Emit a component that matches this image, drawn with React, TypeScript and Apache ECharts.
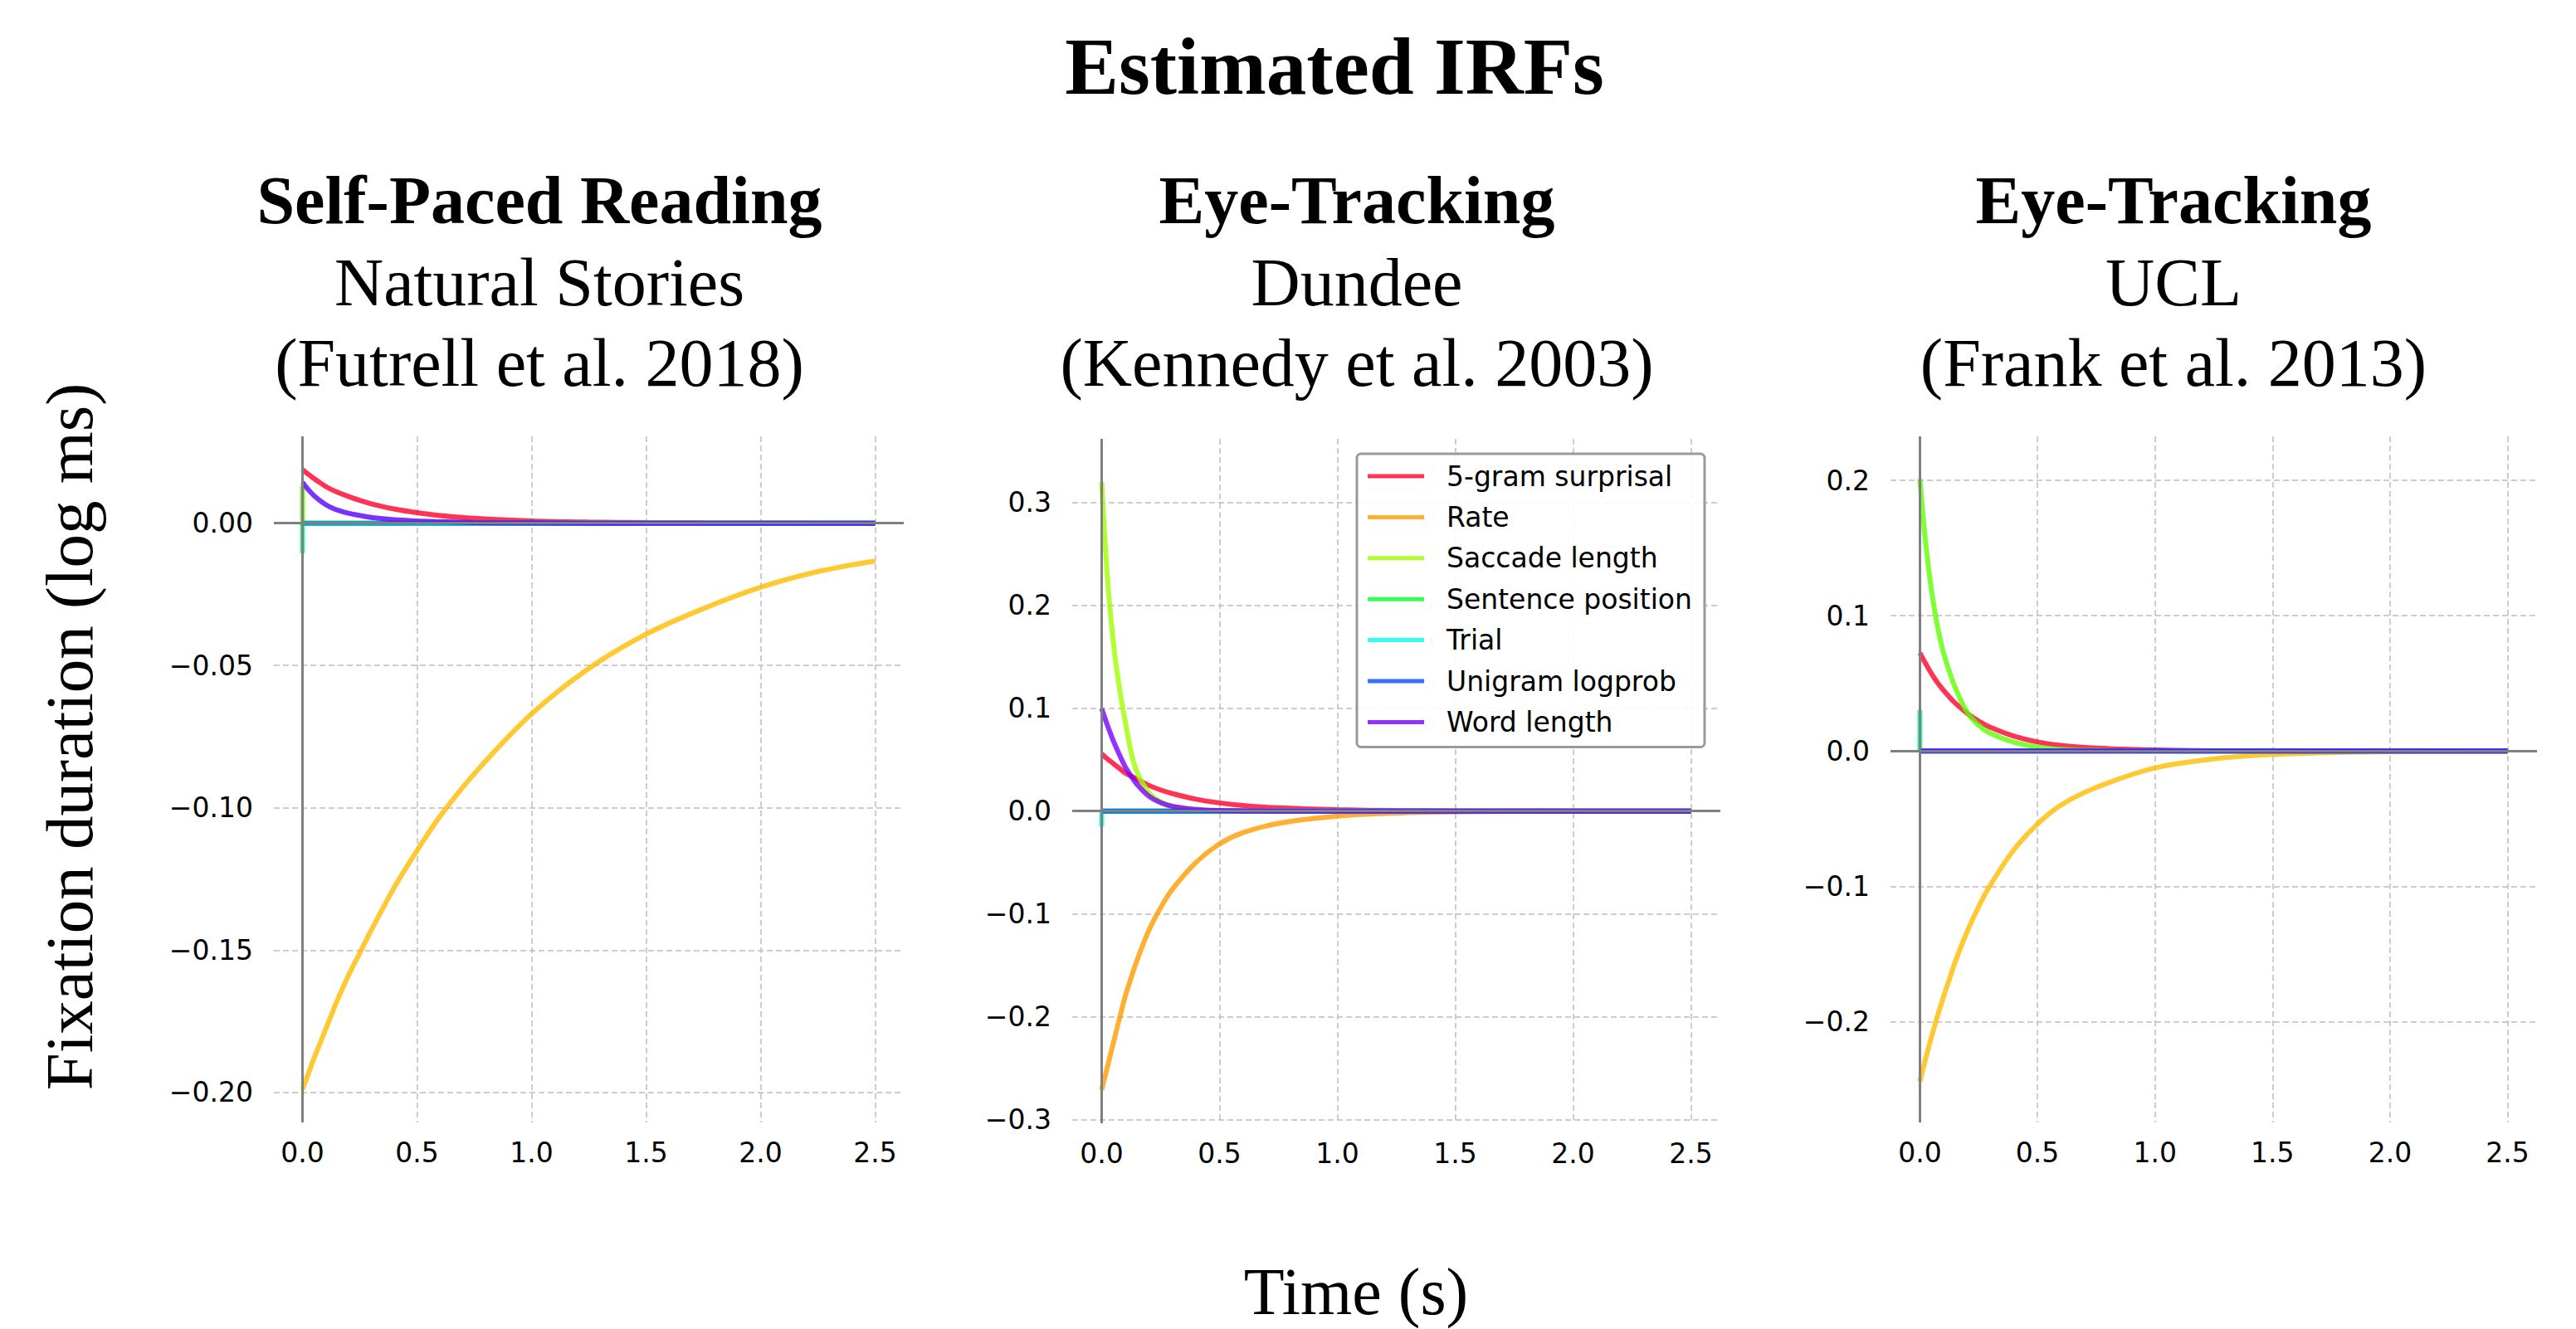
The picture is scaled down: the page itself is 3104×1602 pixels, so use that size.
import React, { useEffect, useRef } from "react";
import * as echarts from "echarts";

// ---------- shared sampling grid (seconds) ----------
const T = [0, 0.025, 0.05, 0.075, 0.1, 0.125, 0.15, 0.2, 0.25, 0.3, 0.4, 0.5, 0.6, 0.75, 1.0, 1.25, 1.5, 1.75, 2.0, 2.25, 2.5];
const impulseT = [0, 0, 2.5];
const flatT = [0, 2.5];

// ---------- tick labels ----------
const xTicks = [0, 0.5, 1.0, 1.5, 2.0, 2.5];
const yTicksNS = [-0.2, -0.15, -0.1, -0.05, 0];
const yTicksDD = [-0.3, -0.2, -0.1, 0, 0.1, 0.2, 0.3];
const yTicksUCL = [-0.2, -0.1, 0, 0.1, 0.2];

// ---------- Panel 1: Self-Paced Reading, Natural Stories ----------
const namesNS = ["5-gram surprisal", "Rate", "Sentence position", "Trial", "Unigram logprob", "Word length"];
const ns5gram = [0.0188, 0.0172, 0.0157, 0.0143, 0.013, 0.0119, 0.011, 0.0094, 0.008, 0.0068, 0.005, 0.0037, 0.0027, 0.0017, 0.0008, 0.0004, 0.0002, 0.0001, 0.00005, 0, 0];
const nsRate = [-0.199, -0.1935, -0.188, -0.183, -0.178, -0.173, -0.168, -0.159, -0.151, -0.143, -0.128, -0.115, -0.103, -0.088, -0.067, -0.051, -0.039, -0.03, -0.0225, -0.017, -0.0133];
const nsSentence = [0.0131, 0, 0];
const nsTrial = [-0.0105, 0, 0];
const nsUnigram = [0, 0];
const nsWordLen = [0.0144, 0.0118, 0.0097, 0.008, 0.0066, 0.0055, 0.0047, 0.0035, 0.0027, 0.002, 0.0012, 0.0008, 0.0005, 0.0002, 0.0001, 0, 0, 0, 0, 0, 0];

// ---------- Panel 2: Eye-Tracking, Dundee ----------
const namesDD = ["5-gram surprisal", "Rate", "Saccade length", "Sentence position", "Trial", "Unigram logprob", "Word length"];
const dd5gram = [0.0556, 0.0505, 0.046, 0.0415, 0.037, 0.034, 0.031, 0.025, 0.0205, 0.017, 0.0115, 0.0079, 0.0054, 0.0031, 0.0013, 0.0005, 0.0002, 0.0001, 0, 0, 0];
const ddRate = [-0.271, -0.248, -0.225, -0.202, -0.18, -0.162, -0.145, -0.116, -0.094, -0.076, -0.05, -0.032, -0.021, -0.012, -0.005, -0.002, -0.0008, -0.0003, -0.0001, 0, 0];
const ddSaccade = [0.32, 0.225, 0.163, 0.12, 0.087, 0.057, 0.038, 0.018, 0.009, 0.0045, 0.0012, 0.0003, 0.0001, 0, 0, 0, 0, 0, 0, 0, 0];
const ddSentence = [0, 0];
const ddTrial = [-0.0153, 0, 0];
const ddUnigram = [0, 0];
const ddWordLen = [0.0995, 0.083, 0.068, 0.055, 0.043, 0.034, 0.026, 0.0145, 0.0082, 0.0046, 0.0016, 0.0005, 0.0002, 0, 0, 0, 0, 0, 0, 0, 0];

// ---------- Panel 3: Eye-Tracking, UCL ----------
const namesUCL = ["5-gram surprisal", "Rate", "Saccade length", "Sentence position", "Unigram logprob", "Word length"];
const ucl5gram = [0.0725, 0.0645, 0.057, 0.0505, 0.045, 0.04, 0.0355, 0.028, 0.022, 0.0175, 0.011, 0.0067, 0.0042, 0.0021, 0.0007, 0.0002, 0.0001, 0, 0, 0, 0];
const uclRate = [-0.2444, -0.227, -0.211, -0.196, -0.182, -0.169, -0.156, -0.134, -0.115, -0.099, -0.073, -0.054, -0.04, -0.027, -0.0125, -0.0058, -0.0026, -0.0012, -0.0006, -0.0003, -0.0001];
const uclSaccade = [0.201, 0.153, 0.118, 0.092, 0.073, 0.059, 0.047, 0.029, 0.019, 0.013, 0.0065, 0.003, 0.0013, 0.0004, 0.0001, 0, 0, 0, 0, 0, 0];
const uclSentence = [0.0303, 0, 0];
const uclUnigram = [0, 0];
const uclWordLen = [0, 0];

// gist_rainbow colours (drawn at 0.8 opacity)
const colors7 = ["#ff0029", "#ff9c00", "#9eff00", "#00ff27", "#00ffeb", "#004dff", "#7900ff"];
const colors6 = ["#ff0029", "#ffbc00", "#5cff00", "#00ff89", "#008fff", "#5800ff"];

const SANS = "DejaVu Sans";
const SERIF = "Liberation Serif";

type Panel = {
  names: string[];
  colors: string[];
  xs: number[][];
  ys: number[][];
  yTicks: number[];
  decimals: number;
  yMin: number;
  yMax: number;
  grid: { left: number; top: number; width: number; height: number };
  titleX: number;
  lines: string[];
};

const panels: Panel[] = [
  {
    names: namesNS,
    colors: colors6,
    xs: [T, T, impulseT, impulseT, flatT, T],
    ys: [ns5gram, nsRate, nsSentence, nsTrial, nsUnigram, nsWordLen],
    yTicks: yTicksNS,
    decimals: 2,
    yMin: -0.2105,
    yMax: 0.0305,
    grid: { left: 330, top: 526, width: 759, height: 827 },
    titleX: 650,
    lines: ["Self-Paced Reading", "Natural Stories", "(Futrell et al. 2018)"],
  },
  {
    names: namesDD,
    colors: colors7,
    xs: [T, T, T, flatT, impulseT, flatT, T],
    ys: [dd5gram, ddRate, ddSaccade, ddSentence, ddTrial, ddUnigram, ddWordLen],
    yTicks: yTicksDD,
    decimals: 1,
    yMin: -0.3035,
    yMax: 0.3618,
    grid: { left: 1292, top: 529, width: 781, height: 825 },
    titleX: 1635,
    lines: ["Eye-Tracking", "Dundee", "(Kennedy et al. 2003)"],
  },
  {
    names: namesUCL,
    colors: colors6,
    xs: [T, T, T, impulseT, flatT, flatT],
    ys: [ucl5gram, uclRate, uclSaccade, uclSentence, uclUnigram, uclWordLen],
    yTicks: yTicksUCL,
    decimals: 1,
    yMin: -0.2746,
    yMax: 0.2326,
    grid: { left: 2278, top: 526, width: 779, height: 827 },
    titleX: 2619,
    lines: ["Eye-Tracking", "UCL", "(Frank et al. 2013)"],
  },
];

const fmt = (v: number, d: number) => {
  const x = Math.abs(v) < 1e-9 ? 0 : v;
  return x.toFixed(d).replace("-", "\u2212");
};

const gridLine = { show: true, lineStyle: { color: "#bdbdbd", width: 1.5, type: [7, 4] as any } };

function buildOption() {
  const grid: any[] = [];
  const xAxis: any[] = [];
  const yAxis: any[] = [];
  const series: any[] = [];
  const graphic: any[] = [];

  panels.forEach((p, i) => {
    grid.push({ ...p.grid, containLabel: false });
    xAxis.push({
      type: "value",
      gridIndex: i,
      min: -0.125,
      max: 2.625,
      axisLine: { show: false },
      axisTick: { show: false, customValues: xTicks },
      axisLabel: {
        customValues: xTicks,
        formatter: (v: number) => fmt(v, 1),
        fontFamily: SANS,
        fontSize: 33,
        color: "#000",
        margin: 20,
      },
      splitLine: gridLine,
    });
    yAxis.push({
      type: "value",
      gridIndex: i,
      min: p.yMin,
      max: p.yMax,
      axisLine: { show: false },
      axisTick: { show: false, customValues: p.yTicks },
      axisLabel: {
        customValues: p.yTicks,
        formatter: (v: number) => fmt(v, p.decimals),
        fontFamily: SANS,
        fontSize: 33,
        color: "#000",
        margin: 25,
      },
      splitLine: gridLine,
    });
    // zero lines (axes through the origin)
    series.push({
      type: "line",
      xAxisIndex: i,
      yAxisIndex: i,
      data: [[0, 0]],
      symbol: "none",
      lineStyle: { width: 0 },
      z: 1,
      silent: true,
      markLine: {
        silent: true,
        symbol: ["none", "none"],
        label: { show: false },
        lineStyle: { color: "#808080", width: 3, type: "solid" },
        data: [{ xAxis: 0 }, { yAxis: 0 }],
        animation: false,
      },
    });
    p.names.forEach((name, k) => {
      const xs = p.xs[k];
      const ys = p.ys[k];
      const curve = xs === T;
      series.push({
        type: "line",
        name,
        xAxisIndex: i,
        yAxisIndex: i,
        data: xs.map((x, j) => [x, ys[j]]),
        symbol: "none",
        showSymbol: false,
        smooth: curve ? 0.35 : false,
        lineStyle: { color: p.colors[k], width: 6, opacity: 0.8, cap: "butt" },
        itemStyle: { color: p.colors[k] },
        z: 2,
        silent: true,
      });
    });
    p.lines.forEach((txt, li) => {
      graphic.push({
        type: "text",
        x: p.titleX,
        y: [241, 340, 437][li],
        silent: true,
        style: {
          text: txt,
          fontFamily: SERIF,
          fontSize: 82,
          fontWeight: li === 0 ? "bold" : "normal",
          fill: "#000",
          align: "center",
          verticalAlign: "middle",
        },
      });
    });
  });

  graphic.push({
    type: "text",
    x: 1608,
    y: 80,
    silent: true,
    style: {
      text: "Estimated IRFs",
      fontFamily: SERIF,
      fontSize: 97,
      fontWeight: "bold",
      fill: "#000",
      align: "center",
      verticalAlign: "middle",
    },
  });
  graphic.push({
    type: "text",
    x: 1634,
    y: 1557,
    silent: true,
    style: {
      text: "Time (s)",
      fontFamily: SERIF,
      fontSize: 80,
      fill: "#000",
      align: "center",
      verticalAlign: "middle",
    },
  });
  graphic.push({
    type: "text",
    x: 84,
    y: 888,
    rotation: Math.PI / 2,
    silent: true,
    style: {
      text: "Fixation duration (log ms)",
      fontFamily: SERIF,
      fontSize: 81,
      fill: "#000",
      align: "center",
      verticalAlign: "middle",
    },
  });

  return {
    animation: false,
    backgroundColor: "#ffffff",
    grid,
    xAxis,
    yAxis,
    series,
    graphic,
    legend: {
      orient: "vertical",
      left: 1635,
      top: 547,
      itemWidth: 68,
      itemHeight: 5,
      itemGap: 9.4,
      icon: "rect",
      padding: [7, 15, 10, 13],
      backgroundColor: "rgba(255,255,255,0.9)",
      borderColor: "#9a9a9a",
      borderWidth: 3,
      borderRadius: 5,
      selectedMode: false,
      textStyle: {
        fontFamily: SANS,
        fontSize: 33,
        color: "#000",
        lineHeight: 40,
        padding: [0, 0, 0, 22],
      },
      data: namesDD.map((n, k) => ({
        name: n,
        icon: "rect",
        itemStyle: { color: colors7[k], opacity: 0.8 },
      })),
    },
  };
}

export default function App() {
  const ref = useRef<HTMLDivElement>(null);
  useEffect(() => {
    document.body.style.margin = "0";
    if (!ref.current) return;
    const chart = echarts.init(ref.current, undefined, { renderer: "svg" });
    chart.setOption(buildOption() as any);
    return () => chart.dispose();
  }, []);
  return (
    <div
      ref={ref}
      style={{ position: "absolute", left: 0, top: 0, width: 3104, height: 1602, background: "#fff" }}
    />
  );
}
